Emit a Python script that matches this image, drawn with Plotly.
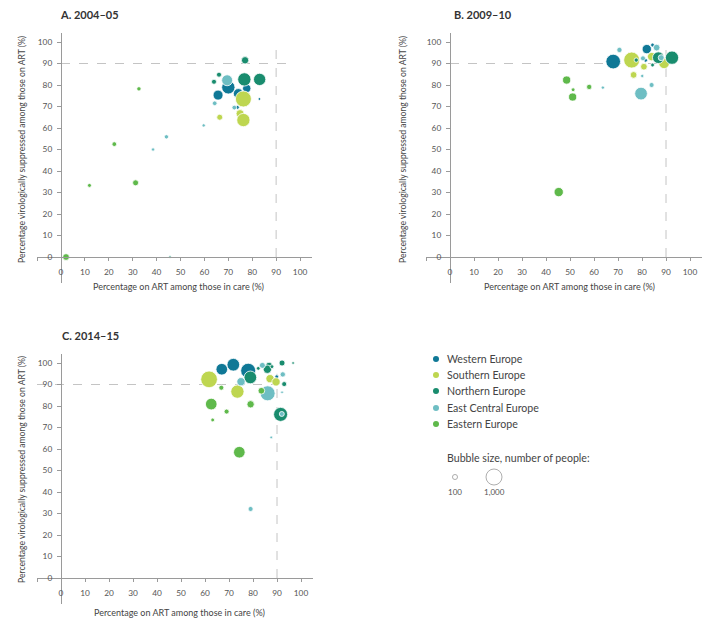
import plotly.graph_objects as go

REGIONS = ["Western Europe", "Southern Europe", "Northern Europe", "East Central Europe", "Eastern Europe"]
COLORS = ["#0f7896", "#bed650", "#198c6e", "#6ebec3", "#5fb94b"]

# Panel A. 2004-05
A_region = ["Western Europe"] * 6 + ["Southern Europe"] * 4 + ["Northern Europe"] * 6 + ["East Central Europe"] * 6 + ["Eastern Europe"] * 5
A_x = [65.7, 70.0, 74.2, 77.7, 83.0, 73.8,
       76.3, 66.4, 74.9, 76.3,
       77.0, 66.1, 64.0, 76.7, 83.1, 45.6,
       69.5, 64.3, 72.5, 59.7, 44.1, 38.5,
       2.1, 11.9, 22.3, 32.6, 31.2]
A_y = [75.3, 78.9, 76.0, 78.4, 73.5, 69.6,
       73.5, 65.0, 66.7, 63.7,
       91.5, 84.8, 81.5, 82.6, 82.6, 0.0,
       82.2, 71.5, 69.5, 61.2, 55.9, 50.0,
       0.0, 33.3, 52.5, 78.2, 34.5]
A_n = [390, 690, 390, 270, 28, 56,
       1000, 140, 250, 690,
       210, 98, 98, 690, 590, 21,
       470, 86, 86, 43, 73, 43,
       175, 62, 86, 73, 140]

# Panel B. 2009-10
B_region = ["Western Europe"] * 4 + ["Southern Europe"] * 5 + ["Northern Europe"] * 4 + ["East Central Europe"] * 8 + ["Eastern Europe"] * 5
B_x = [68.0, 82.0, 84.4, 81.5,
       75.7, 76.5, 80.8, 84.0, 89.2,
       77.6, 84.4, 86.8, 92.5,
       70.6, 80.4, 86.1, 88.0, 80.1, 84.0, 79.6, 63.7,
       45.3, 48.6, 51.3, 51.1, 58.0]
B_y = [90.9, 96.7, 98.6, 91.5,
       91.6, 84.7, 88.5, 93.2, 90.1,
       91.6, 89.3, 92.7, 92.7,
       96.3, 92.4, 97.4, 92.7, 84.2, 80.0, 76.0, 78.8,
       30.2, 82.3, 77.8, 74.4, 79.1]
B_n = [840, 340, 56, 56,
       1000, 175, 175, 270, 445,
       73, 56, 530, 690,
       110, 98, 175, 140, 43, 98, 630, 43,
       340, 260, 56, 260, 110]

# Panel C. 2014-15
C_region = ["Western Europe"] * 5 + ["Southern Europe"] * 4 + ["Northern Europe"] * 9 + ["East Central Europe"] * 8 + ["Eastern Europe"] * 7
C_x = [67.0, 71.8, 78.0, 89.9, 75.9,
       61.7, 73.5, 87.1, 89.6,
       78.9, 86.7, 86.0, 87.9, 92.1, 96.7, 93.0, 91.5, 82.2,
       75.0, 83.9, 92.4, 86.1, 92.1, 92.0, 87.6, 79.0,
       66.8, 83.5, 62.6, 79.0, 69.0, 63.2, 74.3]
C_y = [97.1, 99.2, 96.4, 93.6, 90.5,
       92.4, 86.7, 92.7, 91.2,
       93.3, 98.8, 97.1, 98.3, 100.0, 100.0, 90.2, 76.1, 97.5,
       91.3, 98.9, 94.7, 85.9, 86.4, 76.3, 65.4, 32.1,
       88.5, 87.1, 80.9, 80.8, 77.4, 73.5, 58.5]
C_n = [530, 630, 880, 56, 56,
       1090, 690, 270, 270,
       630, 175, 270, 56, 140, 28, 98, 770, 56,
       270, 140, 110, 880, 28, 98, 28, 98,
       98, 175, 530, 210, 98, 56, 530]

TICKS = [0, 10, 20, 30, 40, 50, 60, 70, 80, 90, 100]
SIZE_LEGEND = [100, 1000]

# page is rendered with an 8px body margin; work in page pixels and convert
OFF = 8
FW, FH = 725 - 2 * OFF, 626 - 2 * OFF


def PX(p):
    return (p - OFF) / FW


def PY(p):
    return 1 - (p - OFF) / FH


MAX_R = 8.0
SIZEREF = 1000 / (2 * MAX_R ** 2)


def diam(n):
    return 2 * (n / 2 / SIZEREF) ** 0.5


fig = go.Figure()

panels = [
    ("x", "y", A_region, A_x, A_y, A_n),
    ("x2", "y2", B_region, B_x, B_y, B_n),
    ("x3", "y3", C_region, C_x, C_y, C_n),
]
for xa, ya, reg, xs, ys, ns in panels:
    for rname, col in zip(REGIONS, COLORS):
        idx = [i for i, r in enumerate(reg) if r == rname]
        fig.add_trace(go.Scatter(
            x=[xs[i] for i in idx], y=[ys[i] for i in idx],
            mode="markers", xaxis=xa, yaxis=ya, name=rname, showlegend=False,
            marker=dict(size=[ns[i] for i in idx], sizemode="area", sizeref=SIZEREF,
                        color=col, opacity=1, line=dict(color="white", width=0.8)),
            hovertemplate=rname + "<br>%{x}, %{y}<extra></extra>",
        ))

TICKFONT = dict(family="Lato, 'Open Sans', sans-serif", size=8.3, color="#555")
AXCOL = "#9a9a9a"


def xax(px0, px1, pos_py):
    return dict(domain=[PX(px0), PX(px1)], range=[-10, 105], anchor="free", position=PY(pos_py),
                tickvals=[-10] + TICKS, ticktext=[""] + [str(t) for t in TICKS],
                ticks="outside", ticklen=3, tickcolor=AXCOL, tickwidth=1,
                showline=True, linecolor=AXCOL, linewidth=1.2,
                showgrid=False, zeroline=False, tickfont=TICKFONT,
                ticklabelstandoff=4, fixedrange=True)


def yax(py_bot, py_top, pos_px):
    return dict(domain=[PY(py_bot), PY(py_top)], range=[-12, 104], anchor="free", position=PX(pos_px),
                tickvals=TICKS, ticks="outside", ticklen=4, tickcolor=AXCOL, tickwidth=1,
                showline=True, linecolor=AXCOL, linewidth=1.2,
                showgrid=False, zeroline=False, tickfont=TICKFONT,
                ticklabelstandoff=3, fixedrange=True)


fig.update_layout(
    xaxis=xax(37.1, 312.0, 257),
    yaxis=yax(282.8, 33.4, 61),
    xaxis2=xax(426.0, 702.0, 257),
    yaxis2=yax(282.8, 33.4, 450),
    xaxis3=xax(37.0, 313.0, 578),
    yaxis3=yax(603.8, 354.4, 61),
)

# reference dashed lines (90-90 targets)
DASH = dict(color="#c4c4c4", width=1, dash="dash")
for xa, ya, hx0, hx1, vy1 in [("x", "y", 0, 97, 100), ("x2", "y2", 0, 95, 100), ("x3", "y3", -10, 90, 95)]:
    fig.add_shape(type="line", xref=xa, yref=ya, x0=hx0, x1=hx1, y0=90, y1=90, line=DASH, layer="below")
    fig.add_shape(type="line", xref=xa, yref=ya, x0=90, x1=90, y0=0, y1=vy1, line=DASH, layer="below")

TEXTFONT = dict(family="Lato, 'Open Sans', sans-serif", color="#444")
ann = []
for txt, px, py in [("A. 2004–05", 58, 15), ("B. 2009–10", 452, 15), ("C. 2014–15", 60, 335)]:
    ann.append(dict(text="<b>" + txt + "</b>", x=PX(px), y=PY(py), xref="paper", yref="paper",
                    xanchor="left", yanchor="middle", showarrow=False,
                    font=dict(TEXTFONT, size=11, color="#333")))
XT = "Percentage on ART among those in care (%)"
YT = "Percentage virologically suppressed among those on ART (%)"
for px, py in [(178, 286), (569, 286), (179, 612)]:
    ann.append(dict(text=XT, x=PX(px), y=PY(py), xref="paper", yref="paper",
                    xanchor="center", yanchor="middle", showarrow=False, font=dict(TEXTFONT, size=9)))
for px, py in [(22, 150), (403, 150), (22, 470)]:
    ann.append(dict(text=YT, x=PX(px), y=PY(py), xref="paper", yref="paper", textangle=-90,
                    xanchor="center", yanchor="middle", showarrow=False, font=dict(TEXTFONT, size=8.6)))

# legend (manual)
leg_y = [359, 375, 391, 408, 424]
for rname, col, py in zip(REGIONS, COLORS, leg_y):
    r = 3
    fig.add_shape(type="circle", xref="paper", yref="paper",
                  x0=PX(436 - r), x1=PX(436 + r), y0=PY(py + r), y1=PY(py - r),
                  fillcolor=col, line=dict(width=0))
    ann.append(dict(text=rname, x=PX(445), y=PY(py), xref="paper", yref="paper",
                    xanchor="left", yanchor="middle", showarrow=False, font=dict(TEXTFONT, size=10.6)))
ann.append(dict(text="Bubble size, number of people:", x=PX(445), y=PY(458), xref="paper", yref="paper",
                xanchor="left", yanchor="middle", showarrow=False, font=dict(TEXTFONT, size=10.6)))
for n, cx in zip(SIZE_LEGEND, [455, 494]):
    r = diam(n) / 2
    fig.add_shape(type="circle", xref="paper", yref="paper",
                  x0=PX(cx - r), x1=PX(cx + r), y0=PY(477 + r), y1=PY(477 - r),
                  fillcolor="white", line=dict(color="#999", width=0.8))
    ann.append(dict(text=f"{n:,}", x=PX(cx), y=PY(492), xref="paper", yref="paper",
                    xanchor="center", yanchor="middle", showarrow=False, font=dict(TEXTFONT, size=8, color="#555")))

fig.update_layout(
    width=FW, height=FH, margin=dict(l=0, r=0, t=0, b=0),
    paper_bgcolor="white", plot_bgcolor="white", showlegend=False,
    annotations=ann,
)

fig.write_html("out.html")
